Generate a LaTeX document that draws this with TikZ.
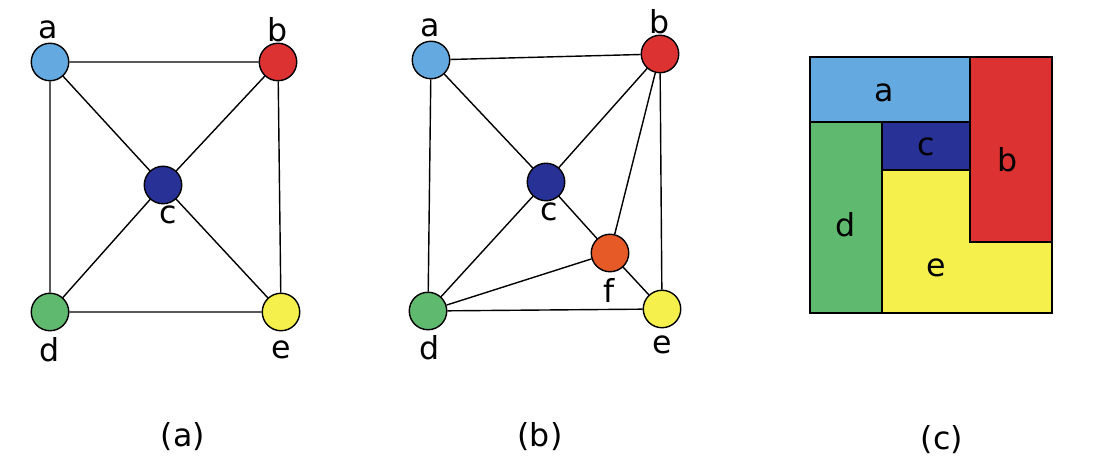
\documentclass[tikz,border=0pt]{standalone}
\usepackage{fontspec}
\setmainfont{DejaVu Sans}
\usetikzlibrary{calc}
\definecolor{ca}{RGB}{100,170,225}
\definecolor{cb}{RGB}{220,50,50}
\definecolor{cc}{RGB}{40,50,150}
\definecolor{cd}{RGB}{95,185,110}
\definecolor{ce}{RGB}{245,240,75}
\definecolor{cf}{RGB}{230,90,40}
\tikzset{vert/.style={circle,draw,thick,minimum size=7.5mm,inner sep=0pt},
  lbl/.style={font=\fontsize{18}{20}\selectfont},
  face/.style={draw,thick}}
\begin{document}
\begin{tikzpicture}[x=0.02cm,y=-0.02cm]
\useasboundingbox (0,0) rectangle (1093,469);
% (a)
\node[vert,fill=ca] (a1) at (50,62){};
\node[vert,fill=cb] (b1) at (278,62){};
\node[vert,fill=cc] (c1) at (163,185){};
\node[vert,fill=cd] (d1) at (50,312){};
\node[vert,fill=ce] (e1) at (281,312){};
\draw[thick] (a1)--(b1) (a1)--(d1) (b1)--(e1) (d1)--(e1) (a1)--(c1) (b1)--(c1) (d1)--(c1) (e1)--(c1);
\node[lbl] at (48,30){a};
\node[lbl] at (278,30){b};
\node[lbl] at (168,215){c};
\node[lbl] at (50,350){d};
\node[lbl] at (281,350){e};
\node[lbl] at (183,437){(a)};
% (b)
\node[vert,fill=ca] (a2) at (431,60){};
\node[vert,fill=cb] (b2) at (660,54){};
\node[vert,fill=cc] (c2) at (546,182){};
\node[vert,fill=cf] (f2) at (610,253){};
\node[vert,fill=cd] (d2) at (428,311){};
\node[vert,fill=ce] (e2) at (662,309){};
\draw[thick] (a2)--(b2) (a2)--(d2) (a2)--(c2) (c2)--(b2) (c2)--(d2) (c2)--(f2)
  (d2)--(f2) (d2)--(e2) (f2)--(b2) (b2)--(e2) (f2)--(e2);
\node[lbl] at (430,28){a};
\node[lbl] at (660,22){b};
\node[lbl] at (549,212){c};
\node[lbl] at (609,290){f};
\node[lbl] at (430,348){d};
\node[lbl] at (662,345){e};
\node[lbl] at (540,437){(b)};
% (c)
\draw[face,fill=ca] (810,57) rectangle (970,122);
\draw[face,fill=cb] (970,57) rectangle (1052,242);
\draw[face,fill=cc] (882,122) rectangle (970,170);
\draw[face,fill=cd] (810,122) rectangle (882,313);
\draw[face,fill=ce] (882,170) -- (970,170) -- (970,242) -- (1052,242) -- (1052,313) -- (882,313) -- cycle;
\node[lbl] at (884,93){a};
\node[lbl] at (1008,160){b};
\node[lbl] at (926,147){c};
\node[lbl] at (846,225){d};
\node[lbl] at (936,268){e};
\node[lbl] at (942,440){(c)};
\end{tikzpicture}
\end{document}
